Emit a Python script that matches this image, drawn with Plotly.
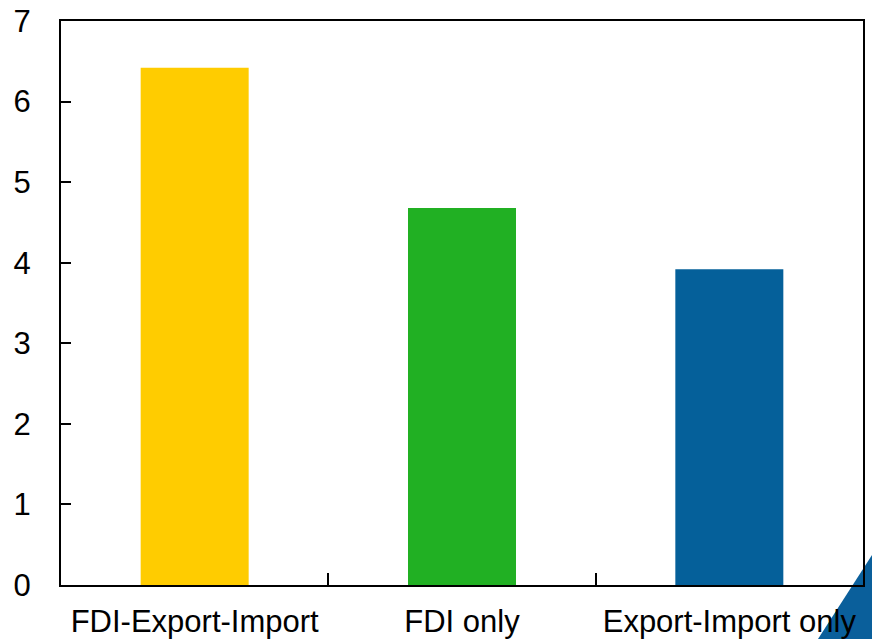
import plotly.graph_objects as go

# Bar chart: three firm groups
categories = ["FDI-Export-Import", "FDI only", "Export-Import only"]
values = [6.42, 4.68, 3.92]
bar_colors = ["#FFCC00", "#21B023", "#05609A"]
y_ticks = [0, 1, 2, 3, 4, 5, 6, 7]

W, H = 872, 639
L, R, T, B = 61, 9, 21, 54
plot_w = W - L - R
plot_h = H - T - B

def px_to_paper(px, py):
    return (px - L) / plot_w, (H - B - py) / plot_h

font = dict(family="Liberation Sans, Arial, sans-serif", size=31, color="#000000")

fig = go.Figure(
    go.Bar(
        x=categories,
        y=values,
        marker=dict(color=bar_colors, line=dict(width=0)),
        hoverinfo="x+y",
    )
)

# decorative blue corner wedge at the bottom right
p1 = px_to_paper(872, 555)
p2 = px_to_paper(872, 639)
p3 = px_to_paper(818, 639)
fig.add_shape(
    type="path",
    xref="paper",
    yref="paper",
    path=f"M {p1[0]} {p1[1]} L {p2[0]} {p2[1]} L {p3[0]} {p3[1]} Z",
    fillcolor="#0A5F9B",
    line=dict(width=0),
    layer="below",
)

fig.update_layout(
    width=W,
    height=H,
    margin=dict(l=L, r=R, t=T, b=B, pad=0, autoexpand=False),
    paper_bgcolor="white",
    plot_bgcolor="rgba(0,0,0,0)",
    bargap=0.596,
    showlegend=False,
    font=font,
)

fig.update_xaxes(
    type="category",
    automargin=False,
    tickson="boundaries",
    ticks="inside",
    ticklen=12,
    tickwidth=2,
    tickcolor="#000000",
    showline=True,
    linecolor="#000000",
    linewidth=2,
    mirror=True,
    showgrid=False,
    zeroline=False,
    tickfont=font,
    ticklabelstandoff=8,
)

fig.update_yaxes(
    range=[0, 7],
    automargin=False,
    tickvals=y_ticks,
    ticktext=[str(v) for v in y_ticks],
    ticks="inside",
    ticklen=10,
    tickwidth=2,
    tickcolor="#000000",
    showline=True,
    linecolor="#000000",
    linewidth=2,
    mirror=True,
    showgrid=False,
    zeroline=False,
    tickfont=font,
    ticklabelstandoff=22,
)

fig.write_html("out.html")
